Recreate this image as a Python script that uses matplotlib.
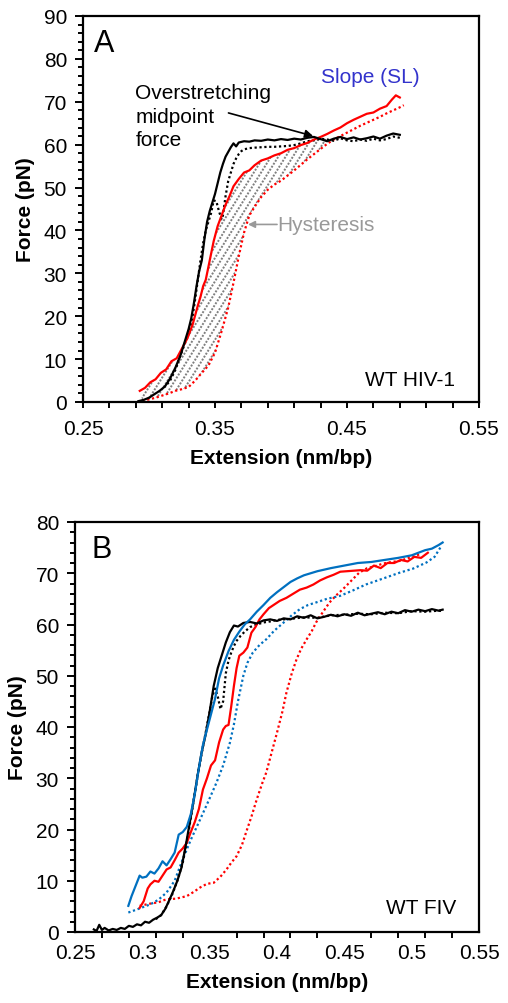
import matplotlib
matplotlib.use("Agg")
import matplotlib.pyplot as plt
from matplotlib.ticker import MultipleLocator, FixedLocator
from matplotlib.patches import Polygon
import numpy as np

plt.rcParams['font.family'] = ['Liberation Sans', 'DejaVu Sans']

RED = '#FF0000'
BLUE = '#0070C0'
BLACK = '#000000'

# ---------------- Panel A data (WT HIV-1) ----------------
A_blk_str_x = [0.292, 0.296, 0.300, 0.304, 0.308, 0.312, 0.316, 0.320, 0.324, 0.327, 0.330, 0.332, 0.334,
               0.336, 0.338, 0.340, 0.342, 0.344, 0.346, 0.348, 0.350, 0.352, 0.354, 0.356, 0.358, 0.360,
               0.362, 0.364, 0.366, 0.368, 0.372, 0.376, 0.380, 0.385, 0.390, 0.395, 0.400, 0.405, 0.410,
               0.415, 0.420, 0.425, 0.430, 0.435, 0.440, 0.445, 0.450, 0.455, 0.460, 0.465, 0.470, 0.475,
               0.480, 0.485, 0.490]
A_blk_str_y = [0.2, 0.5, 1.0, 1.8, 2.6, 3.6, 5.5, 8.0, 11.0, 14.0, 17.0, 19.5, 23.0,
               27.0, 30.5, 33.0, 38.0, 42.0, 44.5, 46.5, 48.5, 51.0, 53.5, 55.5, 57.2, 58.3,
               59.4, 60.3, 59.6, 60.5, 60.8, 60.7, 61.0, 60.9, 61.2, 61.0, 61.3, 61.1, 61.4,
               61.2, 61.6, 61.8, 61.3, 60.8, 61.4, 61.8, 61.3, 61.7, 61.2, 61.5, 61.9, 61.4,
               62.1, 62.6, 62.3]

A_blk_rel_x = [0.490, 0.485, 0.480, 0.475, 0.470, 0.465, 0.460, 0.455, 0.450, 0.445, 0.440, 0.435, 0.430,
               0.425, 0.420, 0.415, 0.410, 0.405, 0.400, 0.395, 0.390, 0.385, 0.380, 0.376, 0.372, 0.370,
               0.368, 0.366, 0.364, 0.362, 0.360, 0.358, 0.356, 0.355, 0.353, 0.351, 0.349, 0.347, 0.345,
               0.343, 0.341, 0.339, 0.337, 0.335, 0.333, 0.331, 0.329, 0.327, 0.324, 0.320, 0.316, 0.312]
A_blk_rel_y = [61.6, 61.9, 61.3, 61.0, 61.4, 60.9, 61.2, 60.8, 61.0, 61.5, 60.9, 61.2, 61.4,
               61.0, 60.8, 60.3, 59.9, 59.7, 59.6, 59.5, 59.5, 59.4, 59.3, 59.2, 58.9, 58.5,
               57.8, 56.8, 55.5, 53.5, 51.5, 48.0, 43.5, 42.6, 44.5, 46.8, 47.0, 44.0, 42.0,
               40.0, 37.0, 33.0, 28.5, 24.0, 20.0, 17.0, 15.0, 13.5, 11.0, 7.5, 5.0, 3.5]

A_red_str_x = [0.293, 0.297, 0.301, 0.305, 0.309, 0.313, 0.317, 0.321, 0.325, 0.329, 0.333, 0.337, 0.339,
               0.341, 0.343, 0.346, 0.349, 0.352, 0.355, 0.358, 0.361, 0.364, 0.368, 0.372, 0.376, 0.380,
               0.385, 0.390, 0.395, 0.400, 0.405, 0.410, 0.415, 0.420, 0.425, 0.430, 0.435, 0.440, 0.445,
               0.450, 0.455, 0.460, 0.465, 0.470, 0.475, 0.480, 0.484, 0.487, 0.490]
A_red_str_y = [2.6, 3.3, 4.6, 5.3, 6.8, 7.6, 9.5, 10.2, 12.5, 14.8, 18.0, 22.5, 24.5,
               27.0, 28.5, 33.0, 37.5, 41.0, 43.5, 46.0, 48.0, 50.3, 52.0, 53.5, 54.0, 55.2,
               56.3, 56.8, 57.5, 58.0, 58.8, 59.2, 59.9, 60.4, 61.2, 61.8, 62.5, 63.3, 64.0,
               65.0, 65.8, 66.5, 67.2, 67.5, 68.4, 69.0, 70.5, 71.5, 71.0]

A_red_rel_x = [0.295, 0.300, 0.305, 0.310, 0.315, 0.320, 0.325, 0.330, 0.335, 0.340, 0.345, 0.350, 0.355,
               0.360, 0.364, 0.368, 0.372, 0.376, 0.380, 0.385, 0.390, 0.395, 0.400, 0.405, 0.410, 0.415,
               0.420, 0.425, 0.430, 0.435, 0.440, 0.445, 0.450, 0.455, 0.460, 0.465, 0.470, 0.475, 0.480,
               0.485, 0.490, 0.493]
A_red_rel_y = [0.3, 0.6, 1.0, 1.5, 2.0, 2.6, 3.0, 3.5, 5.0, 6.8, 8.5, 11.5, 16.5,
               22.0, 27.8, 34.0, 39.5, 43.5, 45.5, 47.8, 49.5, 50.7, 51.6, 52.8, 54.0, 55.3,
               56.6, 57.8, 59.0, 60.2, 61.2, 62.0, 62.8, 63.6, 64.4, 65.1, 65.8, 66.5, 67.3,
               68.0, 68.7, 69.2]

# ---------------- Panel B data (WT FIV) ----------------
B_blk_str_x = [0.264, 0.266, 0.268, 0.270, 0.272, 0.275, 0.278, 0.281, 0.284, 0.287, 0.290, 0.293, 0.296,
               0.299, 0.302, 0.305, 0.308, 0.311, 0.314, 0.317, 0.320, 0.323, 0.326, 0.329, 0.332, 0.335,
               0.338, 0.341, 0.344, 0.347, 0.350, 0.353, 0.356, 0.359, 0.362, 0.365, 0.368, 0.371, 0.375,
               0.380, 0.385, 0.390, 0.395, 0.400, 0.405, 0.410, 0.415, 0.420, 0.425, 0.430, 0.435, 0.440,
               0.445, 0.450, 0.455, 0.460, 0.465, 0.470, 0.475, 0.480, 0.485, 0.490, 0.495, 0.500, 0.505,
               0.510, 0.515, 0.520, 0.523]
B_blk_str_y = [0.5, 0.2, 1.4, 0.4, 0.8, 0.3, 0.6, 0.4, 0.8, 0.6, 1.2, 1.0, 1.5,
               1.3, 2.0, 1.8, 2.4, 2.8, 3.3, 4.5, 6.2, 8.0, 10.0, 12.5, 16.5, 21.0,
               25.5, 30.5, 35.0, 38.5, 43.0, 48.0, 51.5, 54.0, 56.5, 58.5, 59.8, 59.6, 60.3,
               60.5, 60.2, 60.8, 61.0, 60.7, 61.2, 61.0, 61.6, 61.3, 61.8, 61.2, 61.5, 61.9,
               61.6, 62.0, 61.7, 62.3, 61.8, 62.1, 62.4, 62.0, 62.5, 62.2, 62.8, 62.5, 62.9,
               62.6, 63.0, 62.7, 62.9]

B_blk_rel_x = [0.310, 0.314, 0.318, 0.322, 0.326, 0.330, 0.334, 0.338, 0.342, 0.346, 0.350, 0.352, 0.354,
               0.356, 0.358, 0.360, 0.362, 0.364, 0.366, 0.368, 0.370, 0.373, 0.376, 0.380, 0.385, 0.390,
               0.395, 0.400, 0.410, 0.420, 0.430, 0.440, 0.450, 0.460, 0.470, 0.480, 0.490, 0.500, 0.510,
               0.520, 0.523]
B_blk_rel_y = [2.5, 3.3, 5.0, 7.2, 10.0, 13.5, 19.0, 25.5, 32.0, 37.5, 43.0, 46.0, 47.5,
               46.0, 43.5, 45.0, 50.5, 53.0, 54.5, 55.8, 56.8, 57.8, 58.6, 59.5, 60.0, 60.4,
               60.6, 60.9, 61.1, 61.4, 61.3, 61.8, 61.9, 62.1, 62.0, 62.3, 62.2, 62.6, 62.5,
               62.7, 62.6]

B_blu_str_x = [0.2896, 0.292, 0.295, 0.298, 0.300, 0.303, 0.306, 0.309, 0.312, 0.315, 0.318, 0.321, 0.324,
               0.327, 0.330, 0.333, 0.336, 0.339, 0.342, 0.345, 0.348, 0.351, 0.354, 0.357, 0.360, 0.364,
               0.368, 0.372, 0.376, 0.380, 0.385, 0.390, 0.395, 0.400, 0.405, 0.410, 0.415, 0.420, 0.425,
               0.430, 0.440, 0.450, 0.460, 0.470, 0.480, 0.490, 0.500, 0.505, 0.510, 0.515, 0.520, 0.523]
B_blu_str_y = [5.1, 7.0, 9.0, 11.0, 10.6, 10.8, 11.8, 11.4, 12.4, 13.8, 13.0, 14.2, 15.5,
               19.0, 19.5, 20.5, 23.0, 27.0, 32.0, 36.5, 39.5, 42.5, 45.5, 49.5, 52.0, 54.8,
               57.0, 58.6, 60.0, 61.0, 62.5, 63.8, 65.2, 66.3, 67.3, 68.3, 69.0, 69.6, 70.0,
               70.4, 71.0, 71.5, 72.0, 72.2, 72.6, 73.0, 73.5, 74.0, 74.5, 74.8, 75.5, 76.0]

B_blu_rel_x = [0.2896, 0.295, 0.300, 0.306, 0.312, 0.318, 0.324, 0.330, 0.336, 0.343, 0.349, 0.355, 0.360,
               0.365, 0.368, 0.371, 0.375, 0.378, 0.382, 0.387, 0.392, 0.398, 0.405, 0.411, 0.417, 0.423,
               0.429, 0.437, 0.447, 0.456, 0.466, 0.478, 0.491, 0.501, 0.511, 0.517, 0.522]
B_blu_rel_y = [3.8, 4.3, 4.8, 5.4, 6.3, 7.7, 10.0, 14.2, 18.0, 22.0, 25.5, 29.1, 32.5,
               36.9, 40.5, 45.0, 50.0, 52.5, 54.5, 56.0, 57.1, 58.8, 60.4, 61.8, 63.0, 63.8,
               64.3, 65.0, 65.6, 66.6, 67.8, 68.9, 70.1, 70.9, 72.1, 73.2, 75.3]

B_red_str_x = [0.298, 0.301, 0.304, 0.306, 0.309, 0.312, 0.315, 0.318, 0.321, 0.324, 0.327, 0.330, 0.333,
               0.336, 0.339, 0.342, 0.345, 0.348, 0.351, 0.354, 0.357, 0.360, 0.362, 0.364, 0.366, 0.368,
               0.370, 0.372, 0.375, 0.378, 0.381, 0.384, 0.387, 0.390, 0.394, 0.398, 0.402, 0.407, 0.412,
               0.417, 0.422, 0.427, 0.432, 0.437, 0.442, 0.447, 0.452, 0.457, 0.462, 0.467, 0.472, 0.477,
               0.482, 0.487, 0.492, 0.497, 0.502, 0.507, 0.512]
B_red_str_y = [4.7, 6.0, 8.5, 9.3, 10.0, 9.8, 11.0, 12.2, 12.6, 14.0, 15.5, 16.3, 17.4,
               19.5, 21.5, 24.0, 27.8, 30.0, 32.5, 33.5, 37.0, 39.5, 40.2, 40.4, 44.0, 48.0,
               51.5, 53.9, 54.5, 55.5, 58.4, 59.5, 61.0, 62.0, 63.2, 63.9, 64.6, 65.2, 66.0,
               66.8, 67.2, 67.8, 68.6, 69.2, 69.7, 70.3, 70.4, 70.5, 70.6, 70.5, 71.5, 71.0,
               72.0, 72.0, 72.6, 72.3, 73.2, 73.0, 74.0]

B_red_rel_x = [0.298, 0.305, 0.312, 0.318, 0.325, 0.333, 0.338, 0.343, 0.348, 0.353, 0.358, 0.3625, 0.366,
               0.370, 0.374, 0.377, 0.381, 0.385, 0.389, 0.392, 0.396, 0.400, 0.404, 0.407, 0.411, 0.4145,
               0.418, 0.422, 0.426, 0.429, 0.434, 0.439, 0.444, 0.449, 0.455, 0.461, 0.467, 0.473, 0.479,
               0.485, 0.491, 0.498, 0.506]
B_red_rel_y = [5.1, 5.5, 5.8, 6.4, 6.5, 7.0, 7.8, 8.7, 9.4, 9.6, 10.8, 12.2, 13.5,
               14.8, 17.0, 19.4, 22.5, 25.9, 29.0, 31.1, 35.0, 38.9, 43.0, 46.7, 50.5, 53.2,
               55.3, 57.1, 58.8, 60.4, 62.4, 64.3, 65.7, 66.9, 68.5, 70.1, 71.0, 71.4, 71.9,
               72.2, 72.4, 73.0, 73.7]

DOT = (0, (1.0, 1.2))
LW = 1.6
FS = 15

W, H = 508, 1004
fig = plt.figure(figsize=(W / 100, H / 100), dpi=100)

def style_axes(ax, ymax, ymajor, xmajor_len):
    ax.set_xlim(0.25, 0.55)
    ax.set_ylim(0, ymax)
    for s in ax.spines.values():
        s.set_linewidth(1.6)
    ax.yaxis.set_major_locator(MultipleLocator(ymajor))
    ax.yaxis.set_minor_locator(MultipleLocator(2))
    ax.xaxis.set_minor_locator(FixedLocator([0.25 + 0.02 * k for k in range(16)]))
    ax.tick_params(axis='y', which='major', direction='out', length=5.5, width=1.4, labelsize=FS, pad=6)
    ax.tick_params(axis='y', which='minor', direction='out', length=3.5, width=1.4)
    ax.tick_params(axis='x', which='major', direction='out', length=xmajor_len, width=1.4, labelsize=FS, pad=8)
    ax.tick_params(axis='x', which='minor', direction='out', length=4.5, width=1.4)
    ax.set_xlabel('Extension (nm/bp)', fontsize=FS, fontweight='bold', labelpad=7)
    ax.set_ylabel('Force (pN)', fontsize=FS, fontweight='bold', labelpad=6)

# ---------------- Panel A ----------------
axA = fig.add_axes([83 / W, 1 - 403 / H, (479 - 83) / W, (403 - 17) / H])
style_axes(axA, 90, 10, 4.5)
axA.xaxis.set_major_locator(FixedLocator([0.25, 0.35, 0.45, 0.55]))
axA.xaxis.set_major_formatter(plt.FuncFormatter(lambda v, p: f'{v:.2f}'))

# hysteresis hatch between red stretch and red relax curves
rsx = np.array(A_red_str_x); rsy = np.array(A_red_str_y)
rrx = np.array(A_red_rel_x); rry = np.array(A_red_rel_y)
m1 = rsx <= 0.432
m2 = rrx <= 0.442
poly_x = np.concatenate([rsx[m1], rrx[m2][::-1]])
poly_y = np.concatenate([rsy[m1], rry[m2][::-1]])
clip_poly = Polygon(np.column_stack([poly_x, poly_y]), closed=True, facecolor='none',
                    edgecolor='none', transform=axA.transData)
axA.add_patch(clip_poly)
# steep diagonal dotted hatch lines (decoration), clipped to the hysteresis region
ax_w_px, ax_h_px = (479 - 83), (403 - 17)
slope_ax = np.tan(np.radians(58)) * ax_w_px / ax_h_px
step = 7.3 / ax_w_px
for x0 in np.arange(-1.0, 1.2, step):
    ln, = axA.plot([x0, x0 + 1.0 / slope_ax], [0, 1], transform=axA.transAxes,
                   color='#7F7F7F', lw=1.4, ls=(0, (1.0, 0.8)), zorder=1)
    ln.set_clip_path(clip_poly)

axA.plot(A_red_rel_x, A_red_rel_y, color=RED, lw=LW, ls=DOT, zorder=2)
axA.plot(A_blk_rel_x, A_blk_rel_y, color=BLACK, lw=LW, ls=DOT, zorder=3)
axA.plot(A_red_str_x, A_red_str_y, color=RED, lw=LW, zorder=4)
axA.plot(A_blk_str_x, A_blk_str_y, color=BLACK, lw=LW, zorder=5)

axA.text(0.258, 83.6, 'A', fontsize=22, va='center', ha='left')
axA.text(0.2896, 74.3, 'Overstretching\nmidpoint\nforce', fontsize=FS, va='top', ha='left',
         linespacing=1.3)
axA.annotate('', xy=(0.4244, 62.0), xytext=(0.3602, 67.4),
             arrowprops=dict(arrowstyle='-|>', color='black', lw=1.2, mutation_scale=12, shrinkA=0, shrinkB=0))
axA.text(0.4305, 75.8, 'Slope (SL)', fontsize=FS, color='#3333CC', va='center', ha='left')
axA.text(0.3975, 41.4, 'Hysteresis', fontsize=FS, color='#999999', va='center', ha='left')
axA.annotate('', xy=(0.3750, 41.4), xytext=(0.3970, 41.4),
             arrowprops=dict(arrowstyle='-|>', color='#999999', lw=1.2, mutation_scale=10, shrinkA=0, shrinkB=0))
axA.text(0.532, 5.2, 'WT HIV-1', fontsize=FS, va='center', ha='right')

# ---------------- Panel B ----------------
axB = fig.add_axes([75 / W, 1 - 933 / H, (479 - 75) / W, (933 - 523) / H])
style_axes(axB, 80, 10, 0)
axB.xaxis.set_major_locator(MultipleLocator(0.05))
axB.xaxis.set_major_formatter(plt.FuncFormatter(lambda v, p: f'{v:g}'))

axB.plot(B_red_rel_x, B_red_rel_y, color=RED, lw=LW, ls=DOT, zorder=2)
axB.plot(B_blu_rel_x, B_blu_rel_y, color=BLUE, lw=LW, ls=DOT, zorder=2)
axB.plot(B_blk_rel_x, B_blk_rel_y, color=BLACK, lw=LW, ls=DOT, zorder=3)
axB.plot(B_red_str_x, B_red_str_y, color=RED, lw=LW, zorder=4)
axB.plot(B_blk_str_x, B_blk_str_y, color=BLACK, lw=LW, zorder=5)
axB.plot(B_blu_str_x, B_blu_str_y, color=BLUE, lw=LW, zorder=6)

axB.text(0.262, 74.7, 'B', fontsize=22, va='center', ha='left')
axB.text(0.533, 4.7, 'WT FIV', fontsize=FS, va='center', ha='right')

fig.savefig('out.png', dpi=100)
